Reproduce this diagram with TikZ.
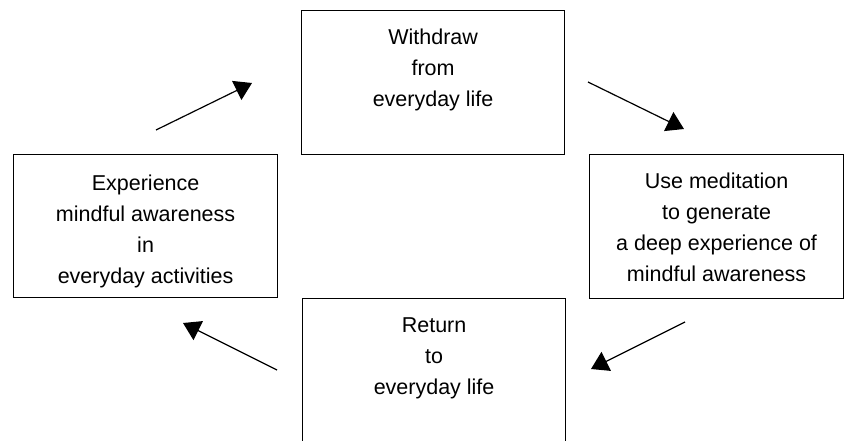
\documentclass[tikz,border=0pt]{standalone}
\usepackage{fontspec}
\setmainfont{Liberation Sans}
\usetikzlibrary{arrows.meta}
\begin{document}
\begin{tikzpicture}[x=1pt,y=-1pt,
  stagebox/.style={draw=black, line width=1.2pt, fill=white, inner sep=0pt, anchor=north west},
  stagetext/.style={font=\fontsize{21.5}{31}\selectfont, align=center, inner sep=0pt, anchor=north},
  flow/.style={line width=1.2pt, -{Triangle[length=17pt,width=21pt]}}]
\useasboundingbox (0,0) rectangle (844,441);
\clip (0,0) rectangle (844,441);
% boxes
\node[stagebox, minimum width=263pt, minimum height=144pt] (top) at (301,10) {};
\node[stagebox, minimum width=264pt, minimum height=143pt] (left) at (13,154) {};
\node[stagebox, minimum width=254pt, minimum height=144pt] (right) at (589,154) {};
\node[stagebox, minimum width=263pt, minimum height=170pt] (bottom) at (302,298) {};
% texts
\node[stagetext] (toptext) at ([yshift=-18.5pt]top.north) {Withdraw\\from\\everyday life};
\node[stagetext] (lefttext) at ([yshift=-20.5pt]left.north) {Experience\\mindful awareness\\in\\everyday activities};
\node[stagetext] (righttext) at ([yshift=-18.5pt]right.north) {Use meditation\\to generate\\a deep experience of\\mindful awareness};
\node[stagetext] (bottomtext) at ([yshift=-19.5pt]bottom.north) {Return\\to\\everyday life};
% arrow end points
\coordinate (a1s) at (156,130); \coordinate (a1e) at (252,83);
\coordinate (a2s) at (588,82);  \coordinate (a2e) at (684,129);
\coordinate (a3s) at (685,322); \coordinate (a3e) at (591,369);
\coordinate (a4s) at (277,370); \coordinate (a4e) at (183,323);
\draw[flow] (a1s) -- (a1e);
\draw[flow] (a2s) -- (a2e);
\draw[flow] (a3s) -- (a3e);
\draw[flow] (a4s) -- (a4e);
\end{tikzpicture}
\end{document}
